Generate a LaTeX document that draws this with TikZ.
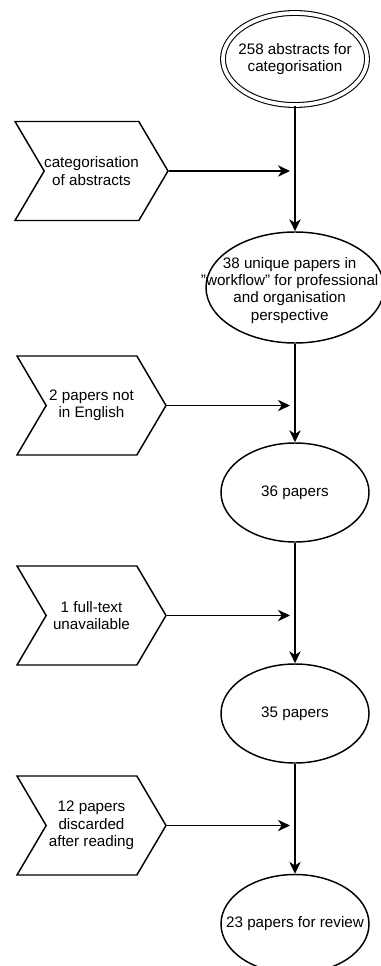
\documentclass[tikz,border=0pt]{standalone}
\usepackage{fontspec}
\setmainfont{Liberation Sans}
\usetikzlibrary{shapes.geometric,shapes.symbols,arrows.meta}

\begin{document}
\begin{tikzpicture}[x=0.75pt, y=-0.75pt,
    font=\fontsize{11.4pt}{13pt}\selectfont,
    stage/.style={ellipse, draw, line width=1.1pt, minimum width=111pt, minimum height=74.25pt, inner sep=0pt},
    stagetext/.style={align=center},
    filter/.style={signal, signal from=west, signal to=east, signal pointer angle=119, draw, line width=1.1pt,
      minimum width=111.75pt, minimum height=74.25pt, align=center, inner sep=0pt},
    flow/.style={-{Stealth[length=9pt,width=8.5pt,inset=2.8pt]}, line width=1.1pt}]
      \useasboundingbox (0,0) rectangle (380,966);

      % Nodes
      \node (abstracts) [stage, double, double distance=2.8pt, line width=0.8pt, minimum width=108pt, minimum height=69pt,
        label={[stagetext]center:{258 abstracts for\\categorisation}}] at (295,59) {};
      \node (unique) [stage, minimum width=133.5pt, minimum height=83.25pt,
        label={[stagetext, xshift=-4pt, yshift=-2pt]center:{38 unique papers in\\\symbol{34}workflow\symbol{34} for professional\\and organisation\\perspective}}] at (295,287.5) {};
      \node (papers36) [stage, label={[stagetext]center:36 papers}] at (295,492.5) {};
      \node (papers35) [stage, label={[stagetext]center:35 papers}] at (295,713.5) {};
      \node (review) [stage, label={[stagetext]center:23 papers for review}] at (295,924) {};

      \node (categorise) [filter] at (91.5,171) {categorisation\\of abstracts};
      \node (english) [filter] at (91.5,405.5) {2 papers not\\in English};
      \node (fulltext) [filter] at (91.5,615.5) {1 full-text\\unavailable};
      \node (discarded) [filter] at (91.5,825.5) {12 papers\\discarded\\after reading};

      % Arrows
      \draw [flow] (abstracts) -- (unique);
      \draw [flow] (unique) -- (papers36);
      \draw [flow] (papers36) -- (papers35);
      \draw [flow] (papers35) -- (review);
      \draw [flow, shorten >=3.75pt] (categorise.east) -- (categorise.east -| abstracts.south);
      \draw [flow, shorten >=3.75pt] (english.east) -- (english.east -| unique.south);
      \draw [flow, shorten >=3.75pt] (fulltext.east) -- (fulltext.east -| papers36.south);
      \draw [flow, shorten >=3.75pt] (discarded.east) -- (discarded.east -| papers35.south);
  \end{tikzpicture}
\end{document}
